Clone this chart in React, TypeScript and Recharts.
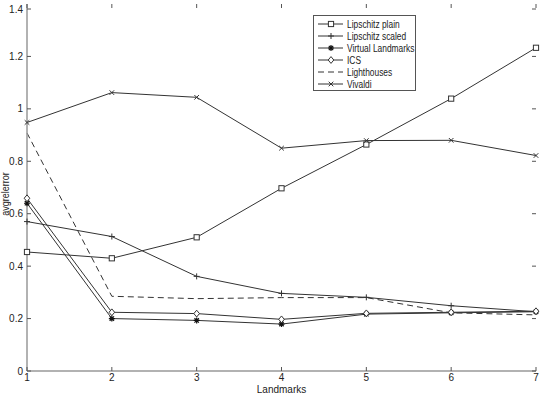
import React from 'react';
import { LineChart, Line, XAxis, YAxis, Legend } from 'recharts';

const landmarks = [1, 2, 3, 4, 5, 6, 7];
const lipschitzPlain = [0.454, 0.43, 0.51, 0.697, 0.864, 1.039, 1.233];
const lipschitzScaled = [0.57, 0.513, 0.361, 0.296, 0.281, 0.249, 0.226];
const virtualLandmarks = [0.64, 0.2, 0.193, 0.179, 0.217, 0.222, 0.226];
const ics = [0.659, 0.224, 0.219, 0.197, 0.22, 0.224, 0.228];
const lighthouses = [0.908, 0.285, 0.276, 0.28, 0.28, 0.222, 0.214];
const vivaldi = [0.948, 1.062, 1.044, 0.85, 0.879, 0.88, 0.822];
const yTicks = [0, 0.2, 0.4, 0.6, 0.8, 1, 1.2, 1.4];

const series = [
  { key: 'lp', name: 'Lipschitz plain', values: lipschitzPlain, marker: 'square', dash: undefined },
  { key: 'ls', name: 'Lipschitz scaled', values: lipschitzScaled, marker: 'plus', dash: undefined },
  { key: 'vl', name: 'Virtual Landmarks', values: virtualLandmarks, marker: 'star', dash: undefined },
  { key: 'ics', name: 'ICS', values: ics, marker: 'diamond', dash: undefined },
  { key: 'lh', name: 'Lighthouses', values: lighthouses, marker: 'none', dash: '6 4' },
  { key: 'vi', name: 'Vivaldi', values: vivaldi, marker: 'cross', dash: undefined },
];

const data = landmarks.map((x, i) => {
  const row: Record<string, number> = { x };
  series.forEach(s => { row[s.key] = s.values[i]; });
  return row;
});

const FONT = '"Liberation Sans", Arial, sans-serif';
const LINE = '#333';
const PLOT_TOP = 4;
const PLOT_BOTTOM = 371;
const PLOT_LEFT = 27;
const PLOT_RIGHT = 536;

function Marker({ kind, cx, cy }: { kind: string; cx: number; cy: number }) {
  const r = 2.6;
  if (kind === 'square') {
    return <rect x={cx - r} y={cy - r} width={r * 2} height={r * 2} fill="white" stroke={LINE} strokeWidth={1} />;
  }
  if (kind === 'diamond') {
    return <path d={`M${cx},${cy - 3.4}L${cx + 2.8},${cy}L${cx},${cy + 3.4}L${cx - 2.8},${cy}Z`} fill="white" stroke={LINE} strokeWidth={1} />;
  }
  if (kind === 'plus') {
    return <path d={`M${cx - 3},${cy}H${cx + 3}M${cx},${cy - 3}V${cy + 3}`} stroke={LINE} strokeWidth={1} />;
  }
  if (kind === 'cross') {
    return <path d={`M${cx - 2.3},${cy - 2.3}L${cx + 2.3},${cy + 2.3}M${cx - 2.3},${cy + 2.3}L${cx + 2.3},${cy - 2.3}`} stroke={LINE} strokeWidth={1} />;
  }
  if (kind === 'star') {
    return (
      <path
        d={`M${cx - 3},${cy}H${cx + 3}M${cx},${cy - 3}V${cy + 3}M${cx - 2.2},${cy - 2.2}L${cx + 2.2},${cy + 2.2}M${cx - 2.2},${cy + 2.2}L${cx + 2.2},${cy - 2.2}`}
        stroke="#111"
        strokeWidth={1.2}
      />
    );
  }
  return null;
}

const XTick = ({ x, payload }: any) => (
  <g>
    <line x1={x} x2={x} y1={PLOT_BOTTOM} y2={PLOT_BOTTOM - 4} stroke="#555" />
    <line x1={x} x2={x} y1={PLOT_TOP} y2={PLOT_TOP + 4} stroke="#555" />
    <text x={x} y={PLOT_BOTTOM + 10} textAnchor="middle" fontSize={10} fontFamily={FONT} fill="#222">
      {payload.value}
    </text>
  </g>
);

const YTick = ({ y, payload }: any) => (
  <g>
    <line x1={PLOT_LEFT} x2={PLOT_LEFT + 4} y1={y} y2={y} stroke="#555" />
    <line x1={PLOT_RIGHT} x2={PLOT_RIGHT - 4} y1={y} y2={y} stroke="#555" />
    <text x={PLOT_LEFT - 4} y={y + 3.5} textAnchor="end" fontSize={10} fontFamily={FONT} fill="#222">
      {payload.value}
    </text>
  </g>
);

// narrow the legend text a little, like the original
const LegendBox = () => (
  <div style={{ width: 103, height: 76, border: '1px solid #555', background: 'white', boxSizing: 'border-box' }}>
    <svg width={101} height={74} style={{ display: 'block' }}>
      {series.map((s, i) => {
        const cy = 8 + i * 12;
        return (
          <g key={s.key}>
            <line x1={4} x2={29} y1={cy} y2={cy} stroke={LINE} strokeDasharray={s.dash} />
            <Marker kind={s.marker} cx={17} cy={cy} />
            <text transform={`translate(33,${cy + 3.5}) scale(0.84,1)`} fontSize={10} fontFamily={FONT} fill="#222">{s.name}</text>
          </g>
        );
      })}
    </svg>
  </div>
);

const YLabel = () => (
  <text transform="translate(9,194) rotate(-90) scale(0.9,1)" textAnchor="middle" fontSize={10} fontFamily={FONT} fill="#222">
    avgrelerror
  </text>
);

export default function App() {
  return (
    <div style={{ position: 'absolute', left: 0, top: 0, width: 541, height: 394, background: 'white' }}>
      <LineChart width={541} height={394} data={data} margin={{ top: 4, right: 5, left: 0, bottom: 0 }}>
        <XAxis
          dataKey="x"
          type="number"
          domain={[1, 7]}
          ticks={landmarks}
          height={23}
          tickSize={0}
          tickLine={false}
          tick={<XTick />}
          axisLine={{ stroke: '#999', strokeWidth: 1.5 }}
          label={{ value: 'Landmarks', position: 'insideBottom', offset: 1, fontSize: 10, fontFamily: FONT, fill: '#222' }}
        />
        <XAxis xAxisId="top" dataKey="x" type="number" domain={[1, 7]} orientation="top" height={0} tick={false} tickLine={false} axisLine={{ stroke: '#666' }} />
        <YAxis
          type="number"
          domain={[0, 1.4]}
          ticks={yTicks}
          width={27}
          tickSize={0}
          tickLine={false}
          tick={<YTick />}
          axisLine={{ stroke: '#999', strokeWidth: 1.5 }}
          label={{ content: <YLabel /> }}
        />
        <YAxis yAxisId="right" type="number" domain={[0, 1.4]} orientation="right" width={0} tick={false} tickLine={false} axisLine={{ stroke: '#666' }} />
        <Legend
          layout="vertical"
          align="center"
          verticalAlign="middle"
          content={<LegendBox />}
          wrapperStyle={{ position: 'absolute', left: 313, top: 15, width: 103, height: 76 }}
        />
        {series.map(s => (
          <Line
            key={s.key}
            dataKey={s.key}
            name={s.name}
            type="linear"
            stroke={LINE}
            strokeWidth={1}
            strokeDasharray={s.dash}
            isAnimationActive={false}
            activeDot={false}
            dot={(p: any) => <Marker key={`${s.key}-${p.index}`} kind={s.marker} cx={p.cx} cy={p.cy} />}
          />
        ))}
      </LineChart>
    </div>
  );
}
